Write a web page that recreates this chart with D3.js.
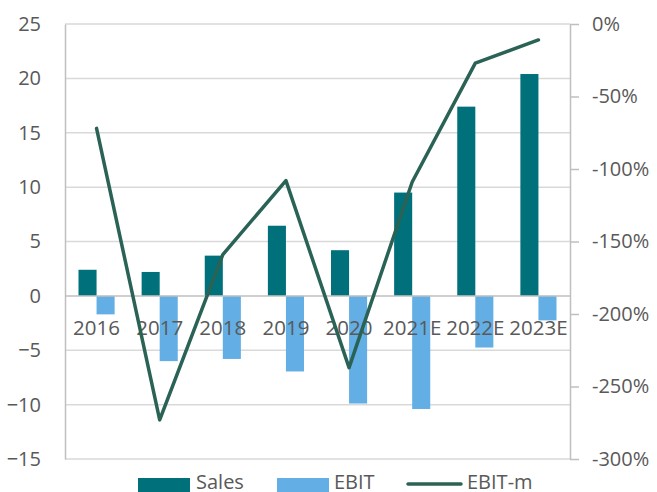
<!DOCTYPE html>
<html><head><meta charset="utf-8">
<script src="https://cdn.jsdelivr.net/npm/d3@7"></script>
<style>
html,body{margin:0;padding:0;background:#fff;}
svg{display:block;font-family:"Open Sans",sans-serif;}
</style></head>
<body><svg id="c" width="657" height="492"></svg>
<script>
const categories = ["2016","2017","2018","2019","2020","2021E","2022E","2023E"];
const sales = [2.4, 2.2, 3.7, 6.45, 4.2, 9.5, 17.4, 20.4];
const ebit = [-1.7, -6.0, -5.8, -6.95, -9.9, -10.4, -4.75, -2.25];
const ebitMargin = [-72, -273, -159, -108, -237, -109, -27, -11];
const leftTicks = [25, 20, 15, 10, 5, 0, -5, -10, -15];
const rightTicks = [0, -50, -100, -150, -200, -250, -300];
const seriesNames = ["Sales", "EBIT", "EBIT-m"];
const colors = {Sales: "#00707a", EBIT: "#63aee5", "EBIT-m": "#2a6355"};

const svg = d3.select("#c");
const L = 65, R = 570, T = 24, B = 459;
const x = d3.scaleBand().domain(categories).range([L, R]).padding(0);
const bw = x.bandwidth();
const xi = d3.scaleBand().domain(["Sales","EBIT"]).range([bw * 0.214, bw * 0.786]).padding(0);
const y = d3.scaleLinear().domain([-15, 25]).range([B, T]);
const y2 = d3.scaleLinear().domain([-300, 0]).range([B, T]);
const txt = "#595959";

// gridlines
svg.append("g").selectAll("line").data(leftTicks.filter(d => d !== 0)).join("line")
  .attr("x1", L).attr("x2", R).attr("y1", d => y(d)).attr("y2", d => y(d))
  .attr("stroke", "#d9d9d9").attr("stroke-width", 1.5);

// left axis
const la = svg.append("g").attr("transform", `translate(${L},0)`)
  .call(d3.axisLeft(y).tickValues(leftTicks).tickSize(0).tickSizeOuter(0).tickPadding(24));
la.select(".domain").attr("stroke", "#bfbfbf").attr("stroke-width", 1.5);
la.selectAll("text").attr("fill", txt).style("font-size", "20px").style("font-family", "Open Sans");

// right axis
const ra = svg.append("g").attr("transform", `translate(${R},0)`)
  .call(d3.axisRight(y2).tickValues(rightTicks).tickSize(9).tickSizeOuter(0).tickPadding(13).tickFormat(d => d + "%"));
ra.select(".domain").attr("stroke", "#bfbfbf").attr("stroke-width", 1.5);
ra.selectAll(".tick line").attr("stroke", "#bfbfbf").attr("stroke-width", 1.5);
ra.selectAll("text").attr("fill", txt).style("font-size", "20px").style("font-family", "Open Sans");

// bars
const g = svg.append("g");
g.selectAll("rect.s").data(categories).join("rect").attr("class","s")
  .attr("x", (d) => x(d) + xi("Sales")).attr("width", xi.bandwidth())
  .attr("y", (d,i) => y(Math.max(0, sales[i]))).attr("height", (d,i) => Math.abs(y(sales[i]) - y(0)))
  .attr("fill", colors.Sales);
g.selectAll("rect.e").data(categories).join("rect").attr("class","e")
  .attr("x", (d) => x(d) + xi("EBIT")).attr("width", xi.bandwidth())
  .attr("y", (d,i) => y(Math.max(0, ebit[i]))).attr("height", (d,i) => Math.abs(y(ebit[i]) - y(0)))
  .attr("fill", colors.EBIT);

// zero line
svg.append("line").attr("x1", L).attr("x2", R).attr("y1", y(0)).attr("y2", y(0))
  .attr("stroke", "#bfbfbf").attr("stroke-width", 1.5);

// category labels
svg.append("g").selectAll("text").data(categories).join("text")
  .attr("x", d => x(d) + bw / 2).attr("y", y(0) + 39)
  .attr("text-anchor", "middle").attr("fill", txt).style("font-size", "20.5px").text(d => d);

// line
const line = d3.line().x((d,i) => x(categories[i]) + bw / 2).y(d => y2(d));
svg.append("path").datum(ebitMargin).attr("d", line).attr("fill", "none")
  .attr("stroke", colors["EBIT-m"]).attr("stroke-width", 3.5).attr("stroke-linejoin", "round").attr("stroke-linecap", "round");

// legend
const lg = svg.append("g");
const ly = 485;
lg.append("rect").attr("x", 138).attr("y", ly - 7).attr("width", 52).attr("height", 14).attr("fill", colors.Sales);
lg.append("text").attr("x", 196).attr("y", ly + 4).attr("fill", txt).style("font-size", "20px").text(seriesNames[0]);
lg.append("rect").attr("x", 277).attr("y", ly - 7).attr("width", 52).attr("height", 14).attr("fill", colors.EBIT);
lg.append("text").attr("x", 334).attr("y", ly + 4).attr("fill", txt).style("font-size", "20px").text(seriesNames[1]);
lg.append("line").attr("x1", 408).attr("x2", 461).attr("y1", ly - 1).attr("y2", ly - 1)
  .attr("stroke", colors["EBIT-m"]).attr("stroke-width", 3.5).attr("stroke-linecap", "round");
lg.append("text").attr("x", 467).attr("y", ly + 4).attr("fill", txt).style("font-size", "20px").text(seriesNames[2]);
</script></body></html>
